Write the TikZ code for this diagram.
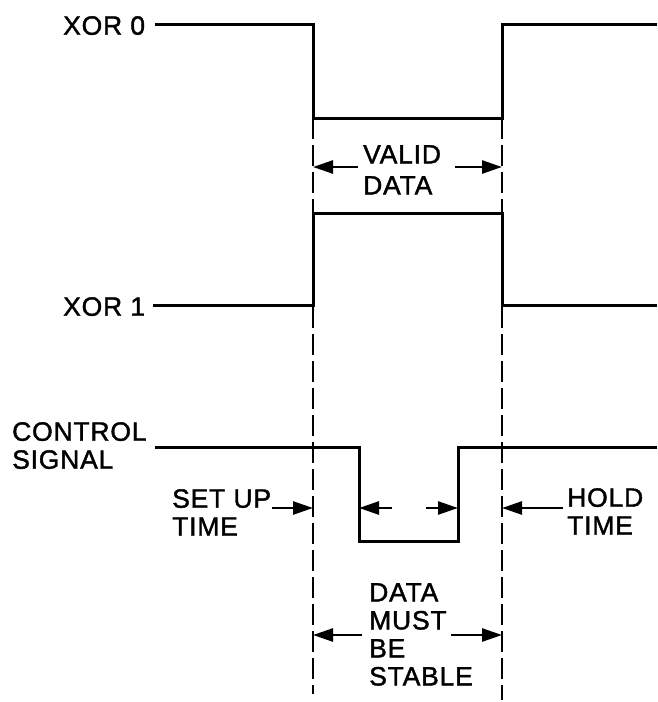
\documentclass[tikz,border=0pt]{standalone}
\usepackage{fontspec}
\setmainfont[LetterSpace=3, FakeBold=1.5]{Liberation Sans}
\usetikzlibrary{arrows.meta}
\begin{document}
\begin{tikzpicture}[x=1pt,y=-1pt,
  wave/.style={line width=3pt, line join=miter},
  guide/.style={line width=2.8pt, dash pattern=on 21pt off 6pt},
  dim/.style={line width=2.6pt, -{Triangle[length=20pt,width=13pt]}},
  lbl/.style={font=\fontsize{26.5}{28}\selectfont, inner sep=0pt, align=left, anchor=north west}]
\useasboundingbox (0,0) rectangle (657,702);

% time marks (dashed guides)
\coordinate (gLt) at (313,118);
\coordinate (gLb) at (313,694);
\coordinate (gRt) at (502,118);
\coordinate (gRb) at (502,700);
\draw[guide] (gLt) -- (gLb);
\draw[guide] (gRt) -- (gRb);

% labels
\node[lbl] (x0) at (63,16) {XOR 0};
\node[lbl] (x1) at (63,297) {XOR 1};
\node[lbl] (ctl) at (12,422) {CONTROL\\SIGNAL};
\node[lbl] (setup) at (172,489) {SET UP\\TIME};
\node[lbl] (hold) at (567,488) {HOLD\\TIME};
\node[lbl] (valid) at (363,145) {VALID\\[3pt]DATA};
\node[lbl] (stable) at (369,583) {DATA\\MUST\\BE\\STABLE};

% waveforms
\coordinate (x0s) at (155,24);
\coordinate (x1s) at (153,305);
\coordinate (cts) at (155,447);
\draw[wave] (x0s) -- (313,24) -- (313,118) -- (502,118) -- (502,24) -- (657,24);
\draw[wave] (x1s) -- (313,305) -- (313,213) -- (502,213) -- (502,305) -- (657,305);
\draw[wave] (cts) -- (359,447) -- (359,541) -- (458,541) -- (458,447) -- (657,447);

% dimension arrows
\draw[dim] (358,167) -- (313,167);
\draw[dim] (455,167) -- (502,167);
\draw[dim] (272,508) -- (313,508);
\draw[dim] (392,508) -- (359,508);
\draw[dim] (426,508) -- (458,508);
\draw[dim] (563,508) -- (502,508);
\draw[dim] (362,635) -- (313,635);
\draw[dim] (451,635) -- (502,635);
\end{tikzpicture}
\end{document}
